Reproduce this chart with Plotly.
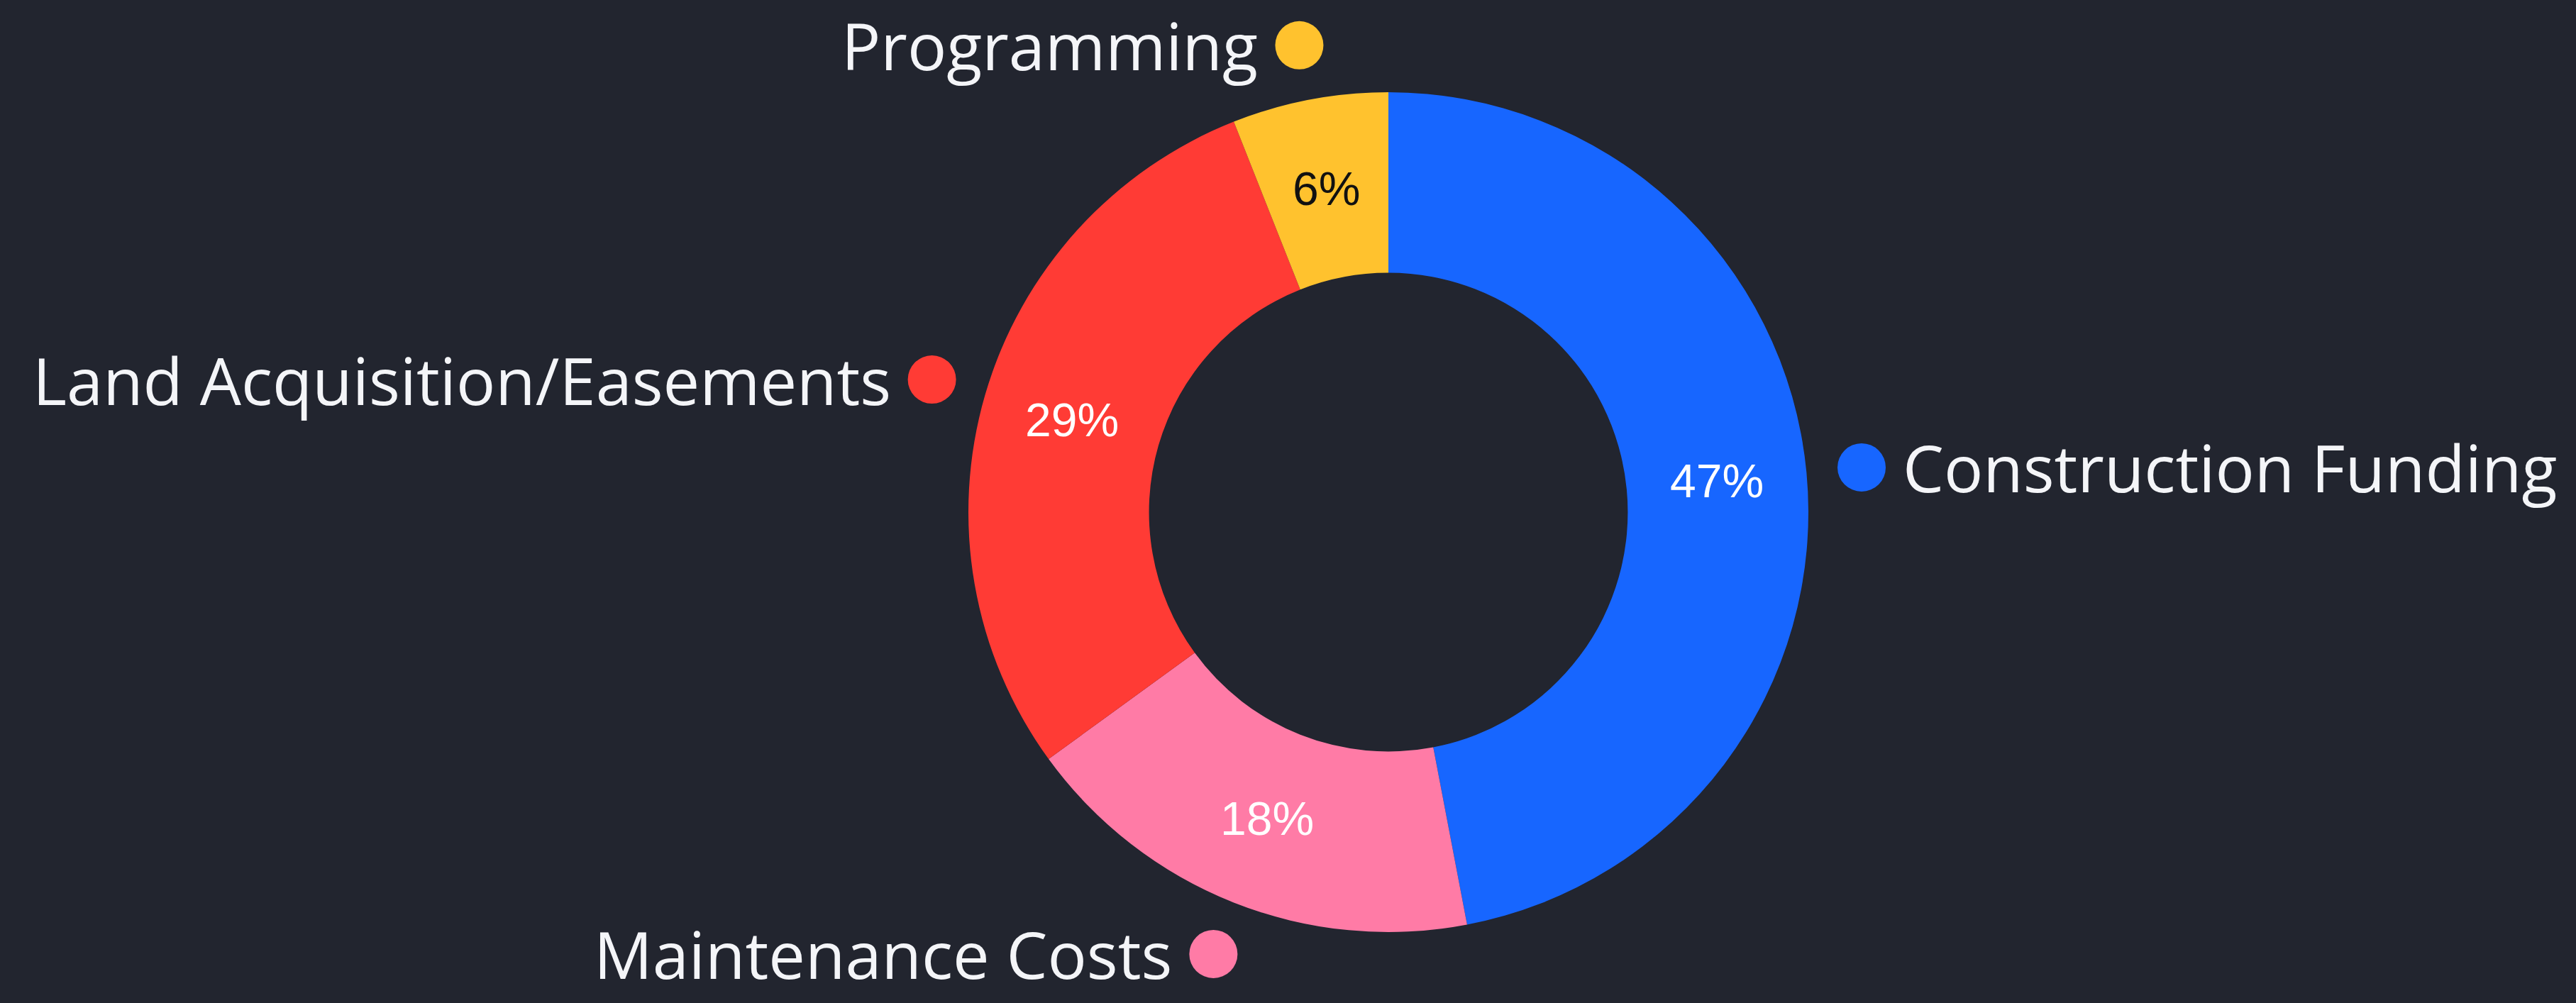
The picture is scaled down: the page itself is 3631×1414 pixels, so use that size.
"""Donut chart of funding split with outside dot labels."""

import math
import plotly.graph_objects as go

# data
labels = ["Construction Funding", "Maintenance Costs", "Land Acquisition/Easements", "Programming"]
values = [47, 18, 29, 6]
colors = ["#1766FF", "#FF7BA6", "#FF3B35", "#FFC22E"]
pct_text_colors = ["#FFFFFF", "#FFFFFF", "#FFFFFF", "#111111"]

W, H = 3631, 1414
BG = "#22252F"

# donut geometry in pixels
cx, cy, R = 1957, 722, 592
HOLE = 0.57
label_r = 670
pct_r = R * (1 + HOLE) / 2
dot_r = 34
gap = 22
label_size = 92

fig = go.Figure(
    go.Pie(
        labels=labels,
        values=values,
        hole=HOLE,
        sort=False,
        direction="clockwise",
        rotation=0,
        marker=dict(colors=colors, line=dict(width=0)),
        textinfo="none",
        domain=dict(
            x=[(cx - R) / W, (cx + R) / W],
            y=[(H - cy - R) / H, (H - cy + R) / H],
        ),
        showlegend=False,
        hoverinfo="label+percent",
    )
)

# labels placed on each slice's mid-angle
annotations = []
shapes = []
total = sum(values)
cum = 0
for lab, val, col, tcol in zip(labels, values, colors, pct_text_colors):
    mid = (cum + val / 2) / total * 2 * math.pi  # clockwise from 12 o'clock
    cum += val
    sx, sy = math.sin(mid), -math.cos(mid)

    # percentage in the middle of the ring
    annotations.append(
        dict(
            x=(cx + pct_r * sx) / W,
            y=1 - (cy + pct_r * sy) / H,
            xref="paper",
            yref="paper",
            text=f"{val / total:.0%}",
            showarrow=False,
            xanchor="center",
            yanchor="middle",
            font=dict(family="Liberation Sans, Arial", size=66, color=tcol),
        )
    )

    # dot + name outside the ring
    px = cx + label_r * sx
    py = cy + label_r * sy
    # keep the text box inside the page
    py = min(max(py, label_size * 0.66), H - label_size * 0.66)
    xp, yp = px / W, 1 - py / H
    shapes.append(
        dict(
            type="circle",
            xref="paper",
            yref="paper",
            xsizemode="pixel",
            ysizemode="pixel",
            xanchor=xp,
            yanchor=yp,
            x0=-dot_r,
            x1=dot_r,
            y0=-dot_r,
            y1=dot_r,
            fillcolor=col,
            line=dict(width=0),
        )
    )
    right_side = sx > 0
    annotations.append(
        dict(
            x=xp,
            y=yp,
            xref="paper",
            yref="paper",
            text=lab,
            showarrow=False,
            xanchor="left" if right_side else "right",
            yanchor="middle",
            xshift=(dot_r + gap) if right_side else -(dot_r + gap),
            font=dict(family="Open Sans, Noto Sans", size=label_size, color="#F4F5F8"),
        )
    )

fig.update_layout(
    width=W,
    height=H,
    paper_bgcolor=BG,
    plot_bgcolor=BG,
    margin=dict(l=0, r=0, t=0, b=0),
    annotations=annotations,
    shapes=shapes,
)

# drop the default page margin so the figure fills the window
fig.write_html(
    "out.html",
    config={"displayModeBar": False},
    post_script="document.body.style.margin='0';document.body.style.background='%s';" % BG,
)
